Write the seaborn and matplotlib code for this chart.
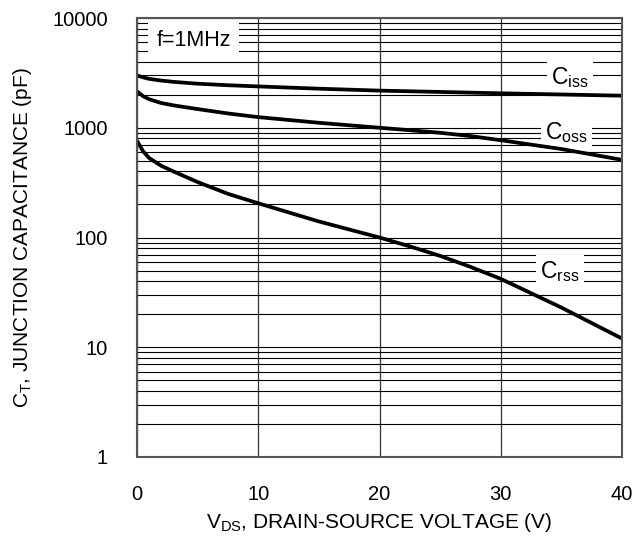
import matplotlib
matplotlib.use("Agg")
import matplotlib.pyplot as plt
from matplotlib.ticker import LogLocator, FixedLocator, NullFormatter
import seaborn as sns
import pandas as pd

# drain-source voltage (V)
vds = [0, 0.5, 1, 2, 3, 5, 7.5, 10, 15, 20, 22.5, 25, 27.5, 30, 35, 40]
# capacitances (pF)
ciss = [3000, 2880, 2790, 2690, 2620, 2520, 2440, 2380, 2270, 2180, 2150, 2120, 2090, 2060, 2010, 1960]
coss = [2150, 1940, 1820, 1680, 1600, 1480, 1350, 1250, 1110, 1000, 950, 900, 840, 770, 640, 510]
crss = [760, 610, 530, 450, 400, 320, 250, 205, 140, 100, 83, 68, 54, 42, 23, 12]
series = ["Ciss", "Coss", "Crss"]
labels = [r"$\mathrm{C_{iss}}$", r"$\mathrm{C_{oss}}$", r"$\mathrm{C_{rss}}$"]
label_pos = [(35.7, 2850), (35.4, 900), (34.9, 49)]

sns.set_theme(style="white")
plt.rcParams['font.family'] = ['Liberation Sans', 'DejaVu Sans']
plt.rcParams['mathtext.fontset'] = 'custom'
plt.rcParams['mathtext.rm'] = 'Liberation Sans'
plt.rcParams['mathtext.it'] = 'Liberation Sans:italic'
plt.rcParams['text.color'] = 'black'
plt.rcParams['axes.labelcolor'] = 'black'

df = pd.concat([pd.DataFrame({'V': vds, 'C': vals, 'curve': name})
                for name, vals in zip(series, [ciss, coss, crss])])

fig = plt.figure(figsize=(6.32, 5.36), dpi=100)
ax = fig.add_axes([0.2168, 0.1474, 0.7674, 0.819])

sns.lineplot(data=df, x='V', y='C', hue='curve', palette=['black'] * 3,
             linewidth=2.7, legend=False, ax=ax, zorder=3)

ax.set_yscale('log')
ax.set_xlim(0, 40)
ax.set_ylim(1, 10000)
ax.xaxis.set_major_locator(FixedLocator([0, 10, 20, 30, 40]))
ax.yaxis.set_major_locator(FixedLocator([1, 10, 100, 1000, 10000]))
ax.yaxis.set_minor_locator(LogLocator(base=10, subs=range(2, 10)))
ax.yaxis.set_minor_formatter(NullFormatter())
ax.set_yticklabels(['1', '10', '100', '1000', '10000'])

ax.grid(True, which='major', axis='x', color='#333333', linewidth=0.9)
ax.grid(True, which='both', axis='y', color='black', linewidth=0.8)
ax.tick_params(axis='both', which='both', length=0, labelsize=14.5, colors='black')
ax.tick_params(axis='y', pad=21)
ax.tick_params(axis='x', pad=20)

for sp in ax.spines.values():
    sp.set_color('#555555')
    sp.set_linewidth(1.5)
    sp.set_zorder(4)

# label boxes hide the grid but sit under the curves
for lab, (x, y) in zip(labels, label_pos):
    ax.text(x, y, lab, fontsize=16.5, ha='center', va='center', zorder=2,
            bbox=dict(facecolor='white', edgecolor='none', pad=3))
ax.text(1.6, 6200, 'f=1MHz', fontsize=15.5, ha='left', va='center', zorder=2,
        bbox=dict(facecolor='white', edgecolor='none', pad=6))

ax.set_xlabel(r'V$_{\mathrm{DS}}$, DRAIN-SOURCE VOLTAGE (V)', fontsize=15, labelpad=5)
ax.set_ylabel(r'C$_{\mathrm{T}}$, JUNCTION CAPACITANCE (pF)', fontsize=15, labelpad=13)

fig.savefig('out.png', dpi=100)
